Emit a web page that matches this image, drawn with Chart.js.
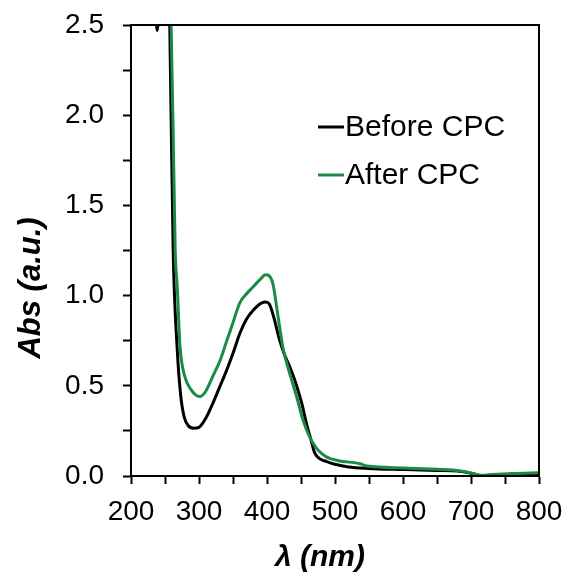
<!DOCTYPE html>
<html>
<head>
<meta charset="utf-8">
<script src="https://cdn.jsdelivr.net/npm/chart.js@4/dist/chart.umd.min.js"></script>
<style>
  html, body { margin: 0; padding: 0; background: #fff; }
  #wrap { width: 566px; height: 579px; position: relative; }
</style>
</head>
<body>
<div id="wrap"><canvas id="c" width="566" height="579"></canvas></div>
<script>
// ---- Data ----
const seriesNames = ["Before CPC", "After CPC"];
const seriesColors = ["#000000", "#1b8a45"];

const wlBefore = [230, 236, 238.5, 241, 245, 252, 257, 262, 268, 273, 278, 284, 292, 300, 310, 320, 330, 340, 350, 360, 370, 380, 390, 397, 403, 410, 418, 426, 434, 440, 446, 452, 458, 464, 470, 478, 488, 500, 520, 550, 600, 650, 680, 700, 715, 730, 760, 800];
const absBefore = [3.0, 2.6, 2.47, 2.6, 3.0, 3.2, 2.5, 1.25, 0.7, 0.45, 0.33, 0.28, 0.265, 0.27, 0.32, 0.40, 0.49, 0.58, 0.68, 0.79, 0.87, 0.92, 0.955, 0.965, 0.955, 0.88, 0.76, 0.67, 0.60, 0.54, 0.47, 0.39, 0.29, 0.21, 0.13, 0.095, 0.08, 0.065, 0.05, 0.042, 0.036, 0.031, 0.028, 0.015, 0.003, 0.005, 0.01, 0.012];

const wlAfter = [257, 259, 262, 265, 268, 272, 276, 281, 288, 295, 301, 310, 320, 331, 340, 350, 360, 370, 380, 390, 398, 403, 409, 416, 424, 431, 438, 445, 453, 461, 468, 476, 488, 505, 537, 547, 600, 650, 673, 690, 705, 715, 730, 760, 800];
const absAfter = [3.0, 2.5, 1.9, 1.25, 1.05, 0.72, 0.6, 0.53, 0.48, 0.45, 0.44, 0.47, 0.55, 0.64, 0.74, 0.85, 0.96, 1.01, 1.05, 1.09, 1.115, 1.11, 1.06, 0.89, 0.70, 0.60, 0.51, 0.42, 0.31, 0.23, 0.18, 0.14, 0.105, 0.085, 0.068, 0.055, 0.045, 0.037, 0.033, 0.025, 0.012, 0.004, 0.008, 0.014, 0.018];

const xMin = 200, xMax = 800, xStep = 50, xLabelStep = 100;
const yMin = 0, yMax = 2.5, yStep = 0.25, yLabelStep = 0.5;
const xTitle = "λ (nm)";
const yTitle = "Abs (a.u.)";

const FONT = "'Liberation Sans', Arial, sans-serif";

function pts(xs, ys) { return xs.map((x, i) => ({ x: x, y: ys[i] })); }

const framePlugin = {
  id: 'frame',
  afterDatasetsDraw(chart) {
    const { ctx, chartArea: a } = chart;
    ctx.save();
    ctx.strokeStyle = '#000';
    ctx.lineWidth = 2;
    ctx.strokeRect(a.left, a.top, a.right - a.left, a.bottom - a.top);
    ctx.restore();
  },
  afterDraw(chart) {
    const { ctx } = chart;
    ctx.save();
    // legend inside plot
    ctx.textBaseline = 'middle';
    ctx.textAlign = 'left';
    ctx.font = "30px " + FONT;
    const lx = 318, ly = [127, 175];
    seriesNames.forEach((n, i) => {
      ctx.strokeStyle = seriesColors[i];
      ctx.lineWidth = 3;
      ctx.beginPath();
      ctx.moveTo(lx, ly[i]);
      ctx.lineTo(lx + 26, ly[i]);
      ctx.stroke();
      ctx.fillStyle = '#000';
      ctx.fillText(n, lx + 27, ly[i] + 1);
    });
    // axis titles
    ctx.font = "bold italic 30px " + FONT;
    ctx.textAlign = 'center';
    ctx.fillText(xTitle, 320, 558);
    ctx.save();
    ctx.translate(31, 288);
    ctx.rotate(-Math.PI / 2);
    ctx.font = "bold italic 31px " + FONT;
    ctx.fillText(yTitle, 0, 0);
    ctx.restore();
    ctx.restore();
  }
};

new Chart(document.getElementById('c'), {
  type: 'line',
  data: {
    datasets: [
      { label: seriesNames[1], data: pts(wlAfter, absAfter), borderColor: seriesColors[1], borderWidth: 3, pointRadius: 0, cubicInterpolationMode: 'monotone', fill: false, clip: 0, order: 0 },
      { label: seriesNames[0], data: pts(wlBefore, absBefore), borderColor: seriesColors[0], borderWidth: 3, pointRadius: 0, cubicInterpolationMode: 'monotone', fill: false, clip: 0, order: 1 }
    ]
  },
  options: {
    responsive: false,
    animation: false,
    devicePixelRatio: 1,
    layout: { padding: { left: 0, right: 27, top: 25, bottom: 0 } },
    plugins: { legend: { display: false }, tooltip: { enabled: false } },
    scales: {
      x: {
        type: 'linear', min: xMin, max: xMax,
        afterFit(s) { s.height = 103; s.paddingLeft = 0; s.paddingRight = 0; },
        border: { display: true, color: '#000', width: 2 },
        grid: { display: true, drawOnChartArea: false, drawTicks: true, tickLength: 8, tickWidth: 2, color: '#000' },
        ticks: {
          stepSize: xStep, padding: 11, color: '#000', maxRotation: 0, autoSkip: false,
          font: { family: FONT, size: 28 },
          callback: v => (v % xLabelStep === 0 ? String(v) : '')
        }
      },
      y: {
        type: 'linear', min: yMin, max: yMax,
        afterFit(s) { s.width = 131; s.paddingTop = 0; s.paddingBottom = 0; },
        border: { display: true, color: '#000', width: 2 },
        grid: { display: true, drawOnChartArea: false, drawTicks: true, tickLength: 8, tickWidth: 2, color: '#000' },
        ticks: {
          stepSize: yStep, padding: 19, color: '#000', autoSkip: false,
          font: { family: FONT, size: 28 },
          callback: v => (Math.abs(v / yLabelStep - Math.round(v / yLabelStep)) < 1e-6 ? v.toFixed(1) : '')
        }
      }
    }
  },
  plugins: [framePlugin]
});
</script>
</body>
</html>
